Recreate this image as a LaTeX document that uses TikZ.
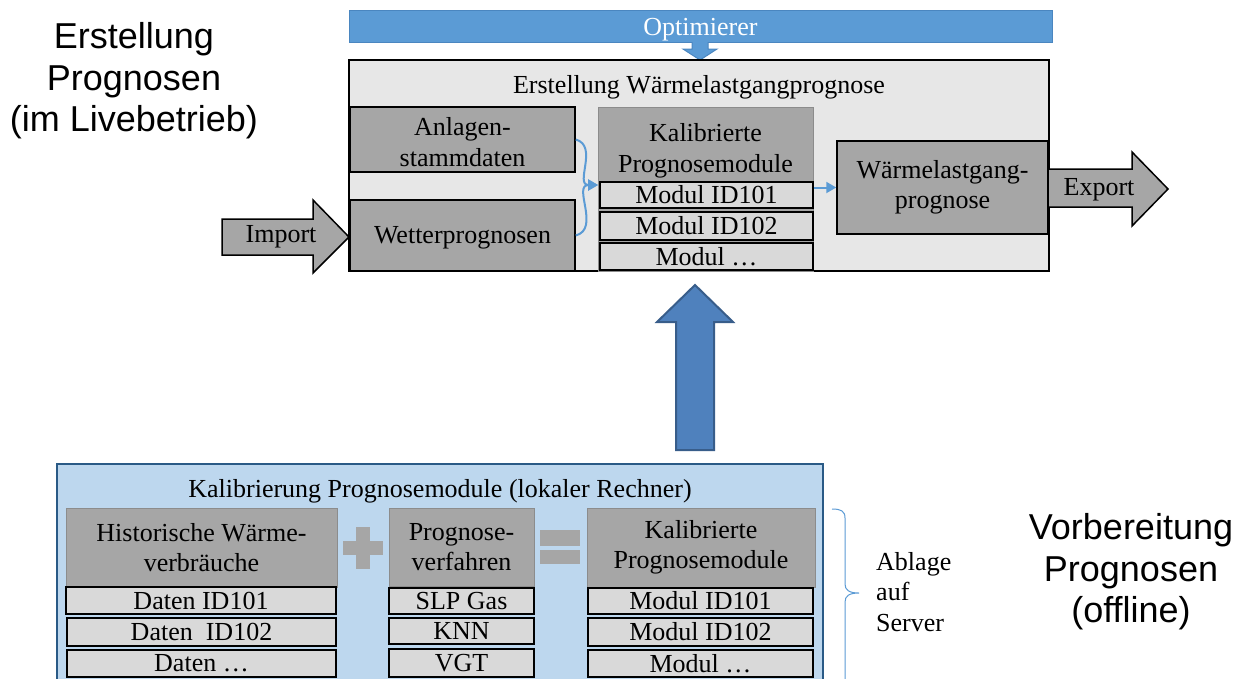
\documentclass[tikz,border=0pt]{standalone}
\usepackage{fontspec}
\setmainfont{Liberation Serif}
\newfontfamily\sansbig{Liberation Sans}
\usetikzlibrary{arrows.meta}
\definecolor{hdrgray}{HTML}{A6A6A6}
\definecolor{rowgray}{HTML}{D9D9D9}
\definecolor{maingray}{HTML}{E7E7E7}
\definecolor{optblue}{HTML}{5B9BD5}
\definecolor{optedge}{HTML}{4A86C0}
\definecolor{bigblue}{HTML}{4F81BD}
\definecolor{bigedge}{HTML}{385D8A}
\definecolor{botfill}{HTML}{BDD7EE}
\definecolor{botedge}{HTML}{2A5A86}
\definecolor{edgegray}{HTML}{8C8C8C}
\tikzset{
  txt/.style={font=\fontsize{26}{30.5}\selectfont, align=center, inner sep=0pt},
  bigtxt/.style={font=\sansbig\fontsize{36}{41.5}\selectfont, align=center, inner sep=0pt},
  box/.style={draw=black, line width=1.5pt, fill=hdrgray, inner sep=0pt, txt},
  ghdr/.style={draw=edgegray, line width=1pt, fill=hdrgray, inner sep=0pt, txt},
  rowbox/.style={draw=black, line width=2pt, fill=rowgray, inner sep=0pt, txt},
  conn/.style={draw=optblue, line width=2pt, -{Triangle[length=10pt,width=11pt]}},
  opmark/.style={fill=hdrgray, draw=none},
}
\begin{document}
\begin{tikzpicture}[x=1pt,y=-1pt]
\useasboundingbox (0,0) rectangle (1236,678);
\fill[white] (0,0) rectangle (1236,678);

% side labels
\node[bigtxt] (lbltop) at (134,81) {Erstellung\\Prognosen\\(im Livebetrieb)};
\node[bigtxt] (lblbot) at (1131,572) {Vorbereitung\\Prognosen\\(offline)};

% Optimierer bar
\node[draw=optedge, fill=optblue, line width=1pt, minimum width=703pt, minimum height=32pt, inner sep=0pt] (opt) at (700.5,26) {};
\node[txt, text=white] (opttxt) at (700.5,30) {Optimierer};
\draw[draw=optedge, fill=optblue, line width=1pt]
  (692,42) -- (692,49) -- (683,49) -- (700,60) -- (717,49) -- (708,49) -- (708,42);

% main box
\node[draw=black, line width=1.5pt, fill=maingray, minimum width=700pt, minimum height=211pt, inner sep=0pt] (main) at (699,165.5) {};
\node[txt] (maintitle) at (699,87) {Erstellung Wärmelastgangprognose};

\node[box, minimum width=225pt, minimum height=65pt] (anl) at (462.5,139.5) {};
\node[txt] (anltxt) at (462.5,142) {Anlagen-\\stammdaten};
\node[box, minimum width=225pt, minimum height=71pt] (wet) at (462.5,235.5) {};
\node[txt] (wettxt) at (462.5,238) {Wetterprognosen};

\node[ghdr, minimum width=215pt, minimum height=164pt] (kal) at (705.5,189) {};
\node[txt] (kaltxt) at (705.5,151) {Kalibrierte\\Prognosemodule};
\node[rowbox, minimum width=213pt, minimum height=26pt] (m1) at (706.5,195) {Modul ID101};
\node[rowbox, minimum width=213pt, minimum height=28pt] (m2) at (706.5,226) {Modul ID102};
\node[rowbox, minimum width=213pt, minimum height=27pt] (m3) at (706.5,256.5) {Modul …};

\node[box, minimum width=211pt, minimum height=93pt] (wlg) at (942.5,187.5) {Wärmelastgang-\\prognose};

% Import / Export arrows
\draw[draw=black, line width=1.5pt, fill=hdrgray]
  (222,219) -- (313,219) -- (313,200) -- (349,237) -- (313,273) -- (313,255) -- (222,255) -- cycle;
\node[txt] (imp) at (281,237) {Import};
\draw[draw=black, line width=1.5pt, fill=hdrgray]
  (1049,169) -- (1132,169) -- (1132,152) -- (1168,189) -- (1132,226) -- (1132,207) -- (1049,207);
\node[txt] (exp) at (1099,190) {Export};

% blue connectors
\coordinate (kin) at (598,185);
\draw[conn] (anl.east) to[out=-15,in=180, looseness=1.2] (kin);
\draw[conn] (wet.east) to[out=15,in=180, looseness=1.2] (kin);
\draw[conn] (m1.east |- wlg.west) -- (wlg.west);

% big up arrow
\draw[draw=bigedge, fill=bigblue, line width=2pt]
  (676,450) -- (676,322) -- (657,322) -- (695,285) -- (733,322) -- (714,322) -- (714,450) -- cycle;

% bottom box
\node[draw=botedge, fill=botfill, line width=2pt, minimum width=766pt, minimum height=240pt, inner sep=0pt] (bot) at (440,584) {};
\node[txt] (bottitle) at (440,491) {Kalibrierung Prognosemodule (lokaler Rechner)};

\node[ghdr, minimum width=271pt, minimum height=79pt] (hist) at (201.5,547.5) {Historische Wärme-\\verbräuche};
\node[rowbox, minimum width=270pt, minimum height=27pt] (d1) at (201,600.5) {Daten ID101};
\node[rowbox, minimum width=269pt, minimum height=28pt] (d2) at (201.5,632) {Daten\ \ ID102};
\node[rowbox, minimum width=269pt, minimum height=27pt] (d3) at (201.5,663.5) {Daten …};

\fill[opmark] (343,541) rectangle (383,555);
\fill[opmark] (356,527) rectangle (370,569);

\node[ghdr, minimum width=145pt, minimum height=78pt] (prog) at (461.5,547) {Prognose-\\verfahren};
\node[rowbox, minimum width=145pt, minimum height=26pt] (p1) at (461.5,601) {SLP Gas};
\node[rowbox, minimum width=145pt, minimum height=26pt] (p2) at (461.5,631) {KNN};
\node[rowbox, minimum width=145pt, minimum height=28pt] (p3) at (461.5,663) {VGT};

\fill[opmark] (540,530) rectangle (580,546);
\fill[opmark] (540,550) rectangle (580,564);

\node[ghdr, minimum width=228pt, minimum height=79pt] (kal2) at (701,547.5) {Kalibrierte\\Prognosemodule};
\node[rowbox, minimum width=225pt, minimum height=26pt] (k1) at (700.5,601) {Modul ID101};
\node[rowbox, minimum width=225pt, minimum height=28pt] (k2) at (700.5,632) {Modul ID102};
\node[rowbox, minimum width=225pt, minimum height=27pt] (k3) at (700.5,663.5) {Modul …};

% brace
\draw[optblue, line width=1pt]
  (832,509) .. controls (841,509) and (845,511) .. (845,518) -- (845,584)
  .. controls (845,590) and (849,593) .. (859,593)
  .. controls (849,593) and (845,596) .. (845,602) -- (845,690);
\node[txt, align=left, anchor=west] (abl) at (876,592) {Ablage\\auf\\Server};
\end{tikzpicture}
\end{document}
